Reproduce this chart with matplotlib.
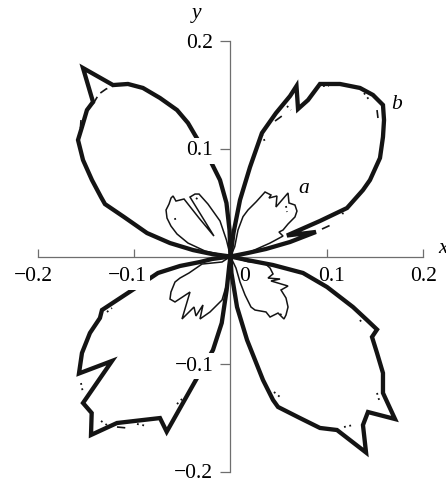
import matplotlib
matplotlib.use("Agg")
import matplotlib.pyplot as plt

plt.rcParams["font.family"] = ["Liberation Serif", "DejaVu Serif"]

# ---- curve b (thick): one closed loop per quadrant, each passing through the origin
b_q1_x = [0, 0.0031, 0.0099, 0.0203, 0.0327, 0.0473, 0.0619, 0.0686, 0.0702, 0.0806, 0.0930,
          0.1138, 0.1346, 0.1481, 0.1585, 0.1596, 0.1585, 0.1554, 0.1450, 0.1377, 0.1211,
          0.0930, 0.0587, 0.0888, 0.0619, 0.0369, 0.0182, 0]
b_q1_y = [0, 0.0218, 0.0525, 0.0831, 0.1147, 0.1332, 0.1490, 0.1583, 0.1370, 0.1453, 0.1602,
          0.1602, 0.1565, 0.1500, 0.1407, 0.1267, 0.1110, 0.0915, 0.0710, 0.0617, 0.0450,
          0.0330, 0.0195, 0.0228, 0.0135, 0.0070, 0.0033, 0]

b_q2_x = [0, -0.0192, -0.0390, -0.0629, -0.0868, -0.1107, -0.1305, -0.1346, -0.1440, -0.1533,
          -0.1585, -0.1544, -0.1492, -0.1429, -0.1533, -0.1221, -0.1066, -0.0910, -0.0733,
          -0.0556, -0.0442, -0.0369, -0.0213, -0.0109, -0.0042, -0.0010, 0]
b_q2_y = [0, 0.0023, 0.0060, 0.0125, 0.0218, 0.0367, 0.0487, 0.0552, 0.0710, 0.0896,
          0.1082, 0.1202, 0.1360, 0.1435, 0.1750, 0.1592, 0.1602, 0.1565, 0.1472,
          0.1360, 0.1240, 0.1128, 0.0896, 0.0710, 0.0497, 0.0246, 0]

b_q3_x = [0, -0.0192, -0.0317, -0.0525, -0.0754, -0.0972, -0.1336, -0.1357, -0.1461, -0.1544,
          -0.1575, -0.1232, -0.1533, -0.1443, -0.1450, -0.1180, -0.0733, -0.0663, -0.0348,
          -0.0182, -0.0091, -0.0040, -0.0012, 0]
b_q3_y = [0, -0.0023, -0.0051, -0.0088, -0.0153, -0.0283, -0.0497, -0.0571, -0.0710, -0.0896,
          -0.1086, -0.0970, -0.1360, -0.1453, -0.1657, -0.1546, -0.1500, -0.1627, -0.1128,
          -0.0868, -0.0617, -0.0311, -0.0079, 0]

b_q4_x = [0, 0.0168, 0.0442, 0.0754, 0.1003, 0.1273, 0.1419, 0.1523, 0.1471, 0.1523, 0.1585,
          0.1585, 0.1710, 0.1429, 0.1377, 0.1409, 0.1107, 0.0930, 0.0722, 0.0494, 0.0442,
          0.0338, 0.0172, 0.0068, 0.0010, 0]
b_q4_y = [0, -0.0032, -0.0079, -0.0153, -0.0283, -0.0469, -0.0590, -0.0678, -0.0747, -0.0896,
          -0.1082, -0.1267, -0.1509, -0.1444, -0.1565, -0.1820, -0.1611, -0.1592, -0.1500,
          -0.1397, -0.1332, -0.1147, -0.0775, -0.0469, -0.0153, 0]

# ---- curve a (thin)
a_q1_x = [0, 0.0044, 0.0078, 0.0130, 0.0182, 0.0268, 0.0359, 0.0421, 0.0400, 0.0483, 0.0473,
          0.0598, 0.0608, 0.0670, 0.0691, 0.0670, 0.0598, 0.0546, 0.0504, 0.0546, 0.0411,
          0.0203, 0]
a_q1_y = [0, 0.0091, 0.0246, 0.0370, 0.0432, 0.0509, 0.0599, 0.0571, 0.0543, 0.0562, 0.0460,
          0.0590, 0.0497, 0.0478, 0.0422, 0.0367, 0.0302, 0.0246, 0.0227, 0.0190, 0.0125,
          0.0042, 0]

a_q2_x = [0, -0.0265, -0.0442, -0.0556, -0.0619, -0.0660, -0.0670, -0.0639, -0.0618, -0.0597,
          -0.0567, -0.0483, -0.0327, -0.0172, -0.0421, -0.0369, -0.0327, -0.0234, -0.0109,
          -0.0042, 0]
a_q2_y = [0, 0.0051, 0.0125, 0.0209, 0.0283, 0.0357, 0.0432, 0.0487, 0.0543, 0.0562,
          0.0515, 0.0534, 0.0357, 0.0190, 0.0552, 0.0580, 0.0580, 0.0487, 0.0330,
          0.0153, 0]

a_q3_x = [0, -0.0088, -0.0296, -0.0431, -0.0525, -0.0577, -0.0619, -0.0629, -0.0577, -0.0421,
          -0.0504, -0.0379, -0.0359, -0.0286, -0.0317, -0.0213, -0.0088, -0.0026, 0]
a_q3_y = [0, -0.0051, -0.0070, -0.0153, -0.0200, -0.0237, -0.0330, -0.0395, -0.0422, -0.0330,
          -0.0580, -0.0469, -0.0552, -0.0450, -0.0580, -0.0515, -0.0404, -0.0218, 0]

a_q4_x = [0, 0.0182, 0.0356, 0.0411, 0.0442, 0.0390, 0.0515, 0.0421, 0.0598, 0.0525, 0.0577,
          0.0598, 0.0577, 0.0556, 0.0494, 0.0411, 0.0369, 0.0255, 0.0213, 0.0151, 0.0099,
          0.0057, 0]
a_q4_y = [0, -0.0048, -0.0063, -0.0107, -0.0162, -0.0200, -0.0209, -0.0227, -0.0274, -0.0311,
          -0.0385, -0.0469, -0.0543, -0.0580, -0.0525, -0.0562, -0.0515, -0.0497, -0.0469,
          -0.0357, -0.0237, -0.0107, 0]

# ---- approximating curves (thin dashed / dotted) where they leave curve b or a
b_dashed = [
    ([-0.1429, -0.1367, -0.1294, -0.1221], [0.1416, 0.1509, 0.1555, 0.1583]),
    ([-0.1554, -0.1564], [0.1267, 0.1147]),
    ([0.0463, 0.0535], [0.1258, 0.1305]),
    ([0.1523, 0.1533], [0.1360, 0.1286]),
    ([0.0951, 0.1066], [0.0255, 0.0302]),
    ([-0.1180, -0.1076], [-0.1583, -0.1592]),
]
b_dotted = [
    ([0.0327, 0.0359], [0.1137, 0.1063]),
    ([0.0587, 0.0629], [0.1397, 0.1360]),
    ([0.0962, 0.1024], [0.1583, 0.1583]),
    ([0.1388, 0.1450], [0.1518, 0.1444]),
    ([0.1159, 0.1201], [0.0404, 0.0385]),
    ([-0.1554, -0.1533], [-0.1175, -0.1267]),
    ([-0.1346, -0.1284], [-0.1527, -0.1565]),
    ([-0.0972, -0.0868], [-0.1555, -0.1574]),
    ([-0.0556, -0.0504], [-0.1370, -0.1323]),
    ([-0.1284, -0.1232], [-0.0515, -0.0478]),
    ([0.0452, 0.0515], [-0.1258, -0.1305]),
    ([0.1523, 0.1554], [-0.1267, -0.1360]),
    ([0.1180, 0.1273], [-0.1583, -0.1565]),
    ([0.1346, 0.1377], [-0.0590, -0.0627]),
]
a_dotted = [
    ([-0.0577, -0.0567], [0.0357, 0.0311]),
    ([0.0577, 0.0587], [0.0469, 0.0413]),
    ([0.0515, 0.0556], [-0.0543, -0.0515]),
    ([-0.0359, -0.0327], [0.0543, 0.0525]),
]

x_ticks = [-0.2, -0.1, 0.1, 0.2]
x_tick_labels = ["\u22120.2", "\u22120.1", "0.1", "0.2"]
y_ticks = [0.2, 0.1, -0.1, -0.2]
y_tick_labels = ["0.2", "0.1", "\u22120.1", "\u22120.2"]

fig = plt.figure(figsize=(4.46, 4.86), dpi=100)
ax = fig.add_axes([0.0854, 0.0290, 0.8628, 0.8864])
ax.set_xlim(-0.2, 0.2)
ax.set_ylim(-0.2, 0.2)

axis_grey = "#6e6e6e"
for side in ("top", "right"):
    ax.spines[side].set_visible(False)
ax.spines["left"].set_position(("data", 0))
ax.spines["bottom"].set_position(("data", 0))
for side in ("left", "bottom"):
    ax.spines[side].set_color(axis_grey)
    ax.spines[side].set_linewidth(0.9)
    ax.spines[side].set_zorder(1)

ax.set_xticks(x_ticks)
ax.set_yticks(y_ticks)
ax.set_xticklabels([])
ax.set_yticklabels([])
ax.tick_params(axis="x", direction="in", length=5.5, width=0.9, color=axis_grey)
ax.tick_params(axis="y", direction="out", length=7, width=0.9, color=axis_grey)

ink = "#141414"
thick = dict(color=ink, lw=3.1, solid_joinstyle="miter", solid_capstyle="butt", zorder=3)
thin = dict(color=ink, lw=1.1, solid_joinstyle="miter", zorder=3)

for xs, ys in [(b_q1_x, b_q1_y), (b_q2_x, b_q2_y), (b_q3_x, b_q3_y), (b_q4_x, b_q4_y)]:
    ax.plot(xs, ys, **thick, clip_on=False)
for xs, ys in [(a_q1_x, a_q1_y), (a_q2_x, a_q2_y), (a_q3_x, a_q3_y), (a_q4_x, a_q4_y)]:
    ax.plot(xs, ys, **thin, clip_on=False)
for xs, ys in b_dashed:
    ax.plot(xs, ys, color=ink, lw=1.2, ls=(0, (5, 3)), zorder=3)
for xs, ys in b_dotted + a_dotted:
    ax.plot(xs, ys, color=ink, lw=1.3, ls=(0, (1, 2)), zorder=3)

fs = 15.5
masked = {"\u22120.1"}
# x tick labels: right edges in data units, numbers sitting under their ticks
x_label_right = [-0.1842, -0.0871, 0.1190, 0.2143]
for xr, lab in zip(x_label_right, x_tick_labels):
    bb = dict(facecolor="white", edgecolor="none", pad=2.5) if lab in masked else None
    ax.text(xr, -0.0232, lab, ha="right", va="baseline", fontsize=fs, bbox=bb, zorder=5)
ax.text(0.0151, -0.0232, "0", ha="center", va="baseline", fontsize=fs, zorder=5)

for yv, lab in zip(y_ticks, y_tick_labels):
    bb = dict(facecolor="white", edgecolor="none", pad=2.5) if lab in ("0.1", "\u22120.1") else None
    ax.text(-0.0179, yv - 0.0060, lab, ha="right", va="baseline", fontsize=fs, bbox=bb, zorder=5)

ax.text(-0.0348, 0.2261, "y", ha="center", va="center", fontsize=fs, style="italic")
ax.text(0.2157, 0.0033, "x", ha="left", va="baseline", fontsize=fs, style="italic")
ax.text(0.0764, 0.0636, "a", ha="center", va="center", fontsize=fs, style="italic")
ax.text(0.1731, 0.1407, "b", ha="center", va="center", fontsize=fs, style="italic")

fig.savefig("out.png", dpi=100)
